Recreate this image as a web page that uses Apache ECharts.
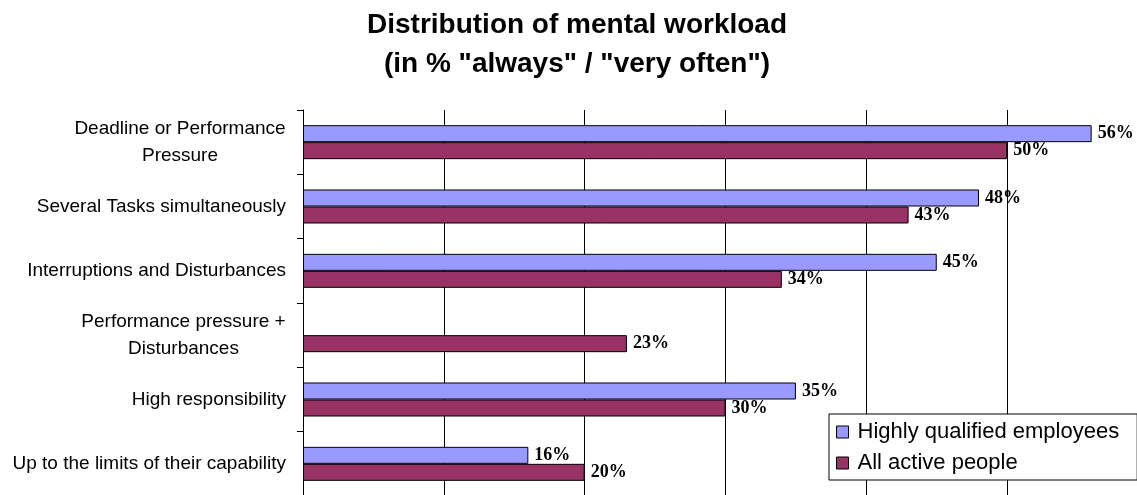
<!DOCTYPE html>
<html>
<head>
<meta charset="utf-8">
<script src="https://cdn.jsdelivr.net/npm/echarts@6/dist/echarts.min.js"></script>
<style>
html,body{margin:0;padding:0;background:#fff;}
#chart{width:1137px;height:495px;}
</style>
</head>
<body>
<div id="chart"></div>
<script>
const categories = [
  "Deadline or Performance\nPressure",
  "Several Tasks simultaneously",
  "Interruptions and Disturbances",
  "Performance pressure +\nDisturbances",
  "High responsibility",
  "Up to the limits of their capability"
];
const seriesNames = ["Highly qualified employees", "All active people"];
const highlyQualified = [56, 48, 45, null, 35, 16];
const allActive = [50, 43, 34, 23, 30, 20];
const titleText = 'Distribution of mental workload\n(in % "always" / "very often")';

const SANS = "'Liberation Sans', Arial, sans-serif";
const SERIF = "'Liberation Serif', 'Times New Roman', serif";
const LABEL_SIZE = 19;

// measure text widths so multi-line category labels are centred among themselves
const ctx = document.createElement('canvas').getContext('2d');
ctx.font = LABEL_SIZE + "px 'Liberation Sans', Arial, sans-serif";
const rich = {};
const labelMap = {};
categories.forEach(function (c, i) {
  const lines = c.split('\n');
  if (lines.length > 1) {
    const w = Math.ceil(Math.max.apply(null, lines.map(function (l) { return ctx.measureText(l).width; })));
    rich['c' + i] = { width: w, align: 'center', fontSize: LABEL_SIZE, lineHeight: 27, fontFamily: SANS, color: '#000' };
    labelMap[c] = lines.map(function (l) { return '{c' + i + '|' + l + '}'; }).join('\n');
  }
});

const chart = echarts.init(document.getElementById('chart'), null, { renderer: 'canvas' });
chart.setOption({
  animation: false,
  backgroundColor: '#fff',
  title: {
    text: titleText,
    left: 577,
    top: 6,
    padding: 0,
    textAlign: 'center',
    textStyle: { fontFamily: SANS, fontWeight: 'bold', fontSize: 28, lineHeight: 39, color: '#000' }
  },
  legend: {
    orient: 'vertical',
    left: 829,
    top: 414,
    padding: [7, 18, 6, 7],
    itemWidth: 12,
    itemHeight: 12,
    itemGap: 9,
    icon: 'rect',
    backgroundColor: '#fff',
    borderColor: '#000',
    borderWidth: 1,
    itemStyle: { borderColor: '#000', borderWidth: 1 },
    textStyle: { fontFamily: SANS, fontSize: 22, color: '#000', padding: [0, 0, 0, 4] },
    data: seriesNames
  },
  grid: { left: 303, top: 110, width: 845, height: 386, containLabel: false, outerBoundsMode: 'none' },
  xAxis: {
    type: 'value',
    min: 0,
    max: 60,
    interval: 10,
    axisLine: { show: false },
    axisTick: { show: false },
    axisLabel: { show: false },
    splitLine: { show: true, lineStyle: { color: '#000', width: 1 } }
  },
  yAxis: {
    type: 'category',
    inverse: true,
    data: categories,
    axisLine: { show: true, lineStyle: { color: '#000', width: 1 } },
    axisTick: { show: true, length: 6, lineStyle: { color: '#000' } },
    axisLabel: {
      margin: 17,
      fontFamily: SANS,
      fontSize: LABEL_SIZE,
      lineHeight: 27,
      color: '#000',
      rich: rich,
      formatter: function (v) { return labelMap[v] || v; }
    },
    splitLine: { show: false }
  },
  series: [
    {
      name: seriesNames[0],
      type: 'bar',
      data: highlyQualified,
      barWidth: 17,
      barGap: '0%',
      itemStyle: { color: '#9999FF', borderColor: '#000', borderWidth: 1 },
      label: { show: true, position: 'right', distance: 6, formatter: '{c}%', fontFamily: SERIF, fontWeight: 'bold', fontSize: 18, color: '#000' }
    },
    {
      name: seriesNames[1],
      type: 'bar',
      data: allActive,
      barWidth: 17,
      barGap: '0%',
      itemStyle: { color: '#993366', borderColor: '#000', borderWidth: 1 },
      label: { show: true, position: 'right', distance: 6, formatter: '{c}%', fontFamily: SERIF, fontWeight: 'bold', fontSize: 18, color: '#000' }
    }
  ]
});
</script>
</body>
</html>
